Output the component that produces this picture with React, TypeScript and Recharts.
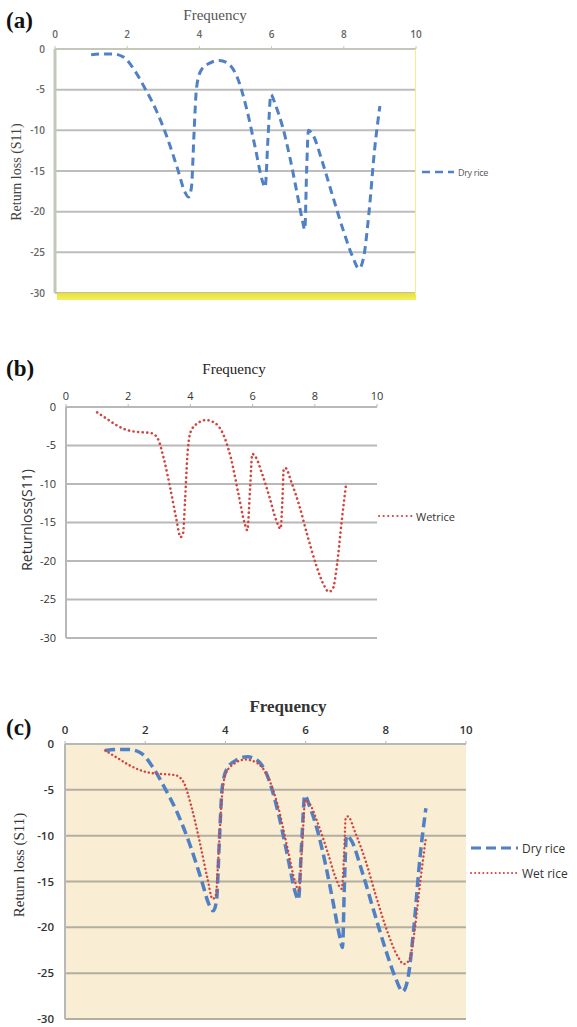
import React from 'react';
import { LineChart, Line, XAxis, YAxis, CartesianGrid } from 'recharts';

// ---- data ----
const xTicks = [0, 2, 4, 6, 8, 10];
const yTicks = [0, -5, -10, -15, -20, -25, -30];

const dryFreq = [1.0, 1.3, 1.6, 1.9, 2.2, 2.5, 2.8, 3.1, 3.4, 3.6, 3.7, 3.78, 3.85, 3.92, 4.05, 4.3, 4.55, 4.8, 5.05, 5.3, 5.55, 5.75, 5.82, 5.9, 5.98, 6.1, 6.3, 6.5, 6.7, 6.85, 6.92, 6.97, 7.02, 7.15, 7.4, 7.7, 8.0, 8.25, 8.42, 8.55, 8.7, 8.85, 9.0];
const dryS11 = [-0.7, -0.6, -0.6, -1.0, -2.6, -4.9, -7.5, -10.8, -14.8, -17.6, -18.2, -17.0, -10.5, -4.8, -2.6, -1.7, -1.4, -1.8, -3.5, -7.2, -12.2, -16.3, -17.0, -11.0, -5.6, -6.8, -9.5, -13.2, -17.6, -21.0, -22.2, -15.0, -10.0, -10.6, -13.8, -18.2, -22.5, -25.6, -27.0, -25.6, -20.0, -12.5, -7.0];

const wetFreq = [1.0, 1.3, 1.6, 1.9, 2.2, 2.5, 2.75, 2.95, 3.15, 3.35, 3.55, 3.68, 3.76, 3.83, 3.9, 4.0, 4.2, 4.5, 4.8, 5.05, 5.3, 5.55, 5.75, 5.83, 5.92, 5.99, 6.1, 6.3, 6.55, 6.75, 6.9, 6.96, 7.0, 7.05, 7.25, 7.5, 7.75, 8.05, 8.3, 8.45, 8.58, 8.72, 8.86, 9.0];
const wetS11 = [-0.7, -1.5, -2.3, -2.9, -3.2, -3.3, -3.4, -4.1, -6.8, -10.5, -14.6, -16.9, -16.5, -12.0, -6.5, -3.3, -2.2, -1.7, -2.1, -3.5, -6.6, -11.4, -15.2, -16.0, -10.5, -6.1, -6.5, -8.6, -11.8, -14.6, -15.8, -12.0, -8.1, -7.9, -9.8, -12.8, -16.5, -20.6, -23.2, -24.0, -23.6, -20.3, -15.0, -10.2];

const dryData = dryFreq.map((f, i) => ({ f, s: dryS11[i] }));
const wetData = wetFreq.map((f, i) => ({ f, s: wetS11[i] }));

const BLUE = '#4f81c4';
const RED = '#d2453f';

type SeriesDef = { name: string; data: { f: number; s: number }[]; color: string; dash: string; width: number; cap?: 'round' | 'butt' };

const drySeriesA: SeriesDef = { name: 'Dry rice', data: dryData, color: BLUE, dash: '8 5', width: 3 };
const wetSeriesB: SeriesDef = { name: 'Wet rice', data: wetData, color: RED, dash: '0.1 4.5', width: 2.6, cap: 'round' };
const drySeriesC: SeriesDef = { name: 'Dry rice', data: dryData, color: BLUE, dash: '10 5', width: 3.5 };
const wetSeriesC: SeriesDef = { name: 'Wet rice', data: wetData, color: RED, dash: '0.1 4', width: 2.4, cap: 'round' };

const YW = 50;
const XH = 25;

function Panel(props: {
  top: number; height: number;
  plotLeft: number; plotRight: number; plotTop: number; plotBottom: number;
  series: SeriesDef[]; bg?: string; tickFont: any; yTickMargin: number; xTickMargin: number;
  axisColor: string; axisWidth: number; gridColor: string;
}) {
  const { top, height, plotLeft, plotRight, plotTop, plotBottom, series, bg, tickFont, yTickMargin, xTickMargin, axisColor, axisWidth, gridColor } = props;
  const margin = { left: plotLeft - YW, right: 577 - plotRight, top: plotTop - XH, bottom: height - plotBottom };
  return (
    <div style={{ position: 'absolute', left: 0, top, width: 577, height }}>
      <LineChart width={577} height={height} margin={margin}>
        <CartesianGrid vertical={false} horizontal={true} stroke={gridColor} strokeWidth={2} fill={bg || 'none'} fillOpacity={1} />
        <XAxis
          dataKey="f" type="number" orientation="top" domain={[0, 10]} ticks={xTicks} height={XH}
          axisLine={{ stroke: axisColor, strokeWidth: 2 }} tickLine={{ stroke: axisColor }} tickSize={3}
          tickMargin={xTickMargin} tick={tickFont} interval={0}
        />
        <YAxis
          type="number" domain={[-30, 0]} ticks={yTicks} width={YW}
          axisLine={{ stroke: axisColor, strokeWidth: axisWidth }} tickLine={false} tickSize={0}
          tickMargin={yTickMargin} tick={tickFont} interval={0}
        />
        {series.map((s) => (
          <Line
            key={s.name}
            data={s.data}
            dataKey="s"
            name={s.name}
            type="monotone"
            stroke={s.color}
            strokeWidth={s.width}
            strokeDasharray={s.dash}
            strokeLinecap={s.cap || 'butt'}
            dot={false}
            activeDot={false}
            isAnimationActive={false}
          />
        ))}
      </LineChart>
    </div>
  );
}

function LegendItem(props: { x: number; y: number; len: number; s: SeriesDef; font: any; label: string }) {
  const { x, y, len, s, font, label } = props;
  return (
    <div style={{ position: 'absolute', left: x, top: y - 10, height: 20, display: 'flex', alignItems: 'center' }}>
      <svg width={len + 4} height={20} style={{ display: 'block' }}>
        <line x1={1} y1={10} x2={len + 1} y2={10} stroke={s.color} strokeWidth={s.width * 0.8} strokeDasharray={s.dash} strokeLinecap={s.cap || 'butt'} />
      </svg>
      <span style={{ ...font, whiteSpace: 'nowrap', marginLeft: 1 }}>{label}</span>
    </div>
  );
}

const abs = (left: number, top: number, extra: any = {}) => ({ position: 'absolute' as const, left, top, whiteSpace: 'nowrap' as const, ...extra });

function VTitle(props: { cx: number; cy: number; text: string; font: any }) {
  const { cx, cy, text, font } = props;
  return (
    <div style={{ position: 'absolute', left: cx, top: cy, width: 0, height: 0 }}>
      <div style={{ position: 'absolute', left: 0, top: 0, transform: 'translate(-50%, -50%) rotate(-90deg)', whiteSpace: 'nowrap', ...font }}>{text}</div>
    </div>
  );
}

function HTitle(props: { cx: number; cy: number; text: string; font: any }) {
  const { cx, cy, text, font } = props;
  return (
    <div style={{ position: 'absolute', left: cx, top: cy, width: 0, height: 0 }}>
      <div style={{ position: 'absolute', left: 0, top: 0, transform: 'translate(-50%, -50%)', whiteSpace: 'nowrap', ...font }}>{text}</div>
    </div>
  );
}

export default function App() {
  const serif = '"Liberation Serif", "DejaVu Serif", serif';
  const sans = '"Open Sans", "Noto Sans", "Liberation Sans", sans-serif';
  const panelLabel = { fontFamily: serif, fontWeight: 700, fontSize: 23, color: '#111', lineHeight: 1 };

  const tickA = { fontFamily: sans, fontSize: 10, fontWeight: 600, fill: '#666' };
  const tickB = { fontFamily: sans, fontSize: 11, fill: '#333' };
  const tickC = { fontFamily: sans, fontSize: 11.5, fontWeight: 600, fill: '#333' };

  return (
    <div style={{ position: 'absolute', left: 0, top: 0, width: 577, height: 1027, background: '#fff', overflow: 'hidden' }}>
      {/* Panel (a) */}
      <div style={abs(6, 9, panelLabel)}>(a)</div>
      <HTitle cx={215} cy={15} text="Frequency" font={{ fontFamily: serif, fontSize: 15, color: '#555' }} />
      <VTitle cx={17} cy={172} text="Return loss (S11)" font={{ fontFamily: serif, fontSize: 14, color: '#444' }} />
      <Panel top={0} height={310} plotLeft={55} plotRight={416} plotTop={49} plotBottom={293}
        series={[drySeriesA]} tickFont={tickA} yTickMargin={10} xTickMargin={8}
        axisColor="#c3c8b8" axisWidth={3} gridColor="#bdbdbd" />
      <div style={{ position: 'absolute', left: 57, top: 293, width: 359, height: 7, background: 'linear-gradient(#e9e22a, #f3ee6a)' }} />
      <div style={{ position: 'absolute', left: 415, top: 49, width: 1, height: 246, background: '#f3ee86' }} />
      <LegendItem x={421} y={172} len={32} s={drySeriesA} label="Dry rice" font={{ fontFamily: sans, fontSize: 9, color: '#555', letterSpacing: -0.3 }} />

      {/* Panel (b) */}
      <div style={abs(6, 357, panelLabel)}>(b)</div>
      <HTitle cx={234} cy={369} text="Frequency" font={{ fontFamily: serif, fontSize: 15, color: '#222' }} />
      <VTitle cx={26} cy={520} text="Returnloss(S11)" font={{ fontFamily: sans, fontSize: 14, color: '#333' }} />
      <Panel top={350} height={300} plotLeft={66} plotRight={377} plotTop={57} plotBottom={288}
        series={[wetSeriesB]} tickFont={tickB} yTickMargin={10} xTickMargin={4}
        axisColor="#b8b8b8" axisWidth={2} gridColor="#b8b8b8" />
      <LegendItem x={378} y={516} len={33} s={wetSeriesB} label="Wetrice" font={{ fontFamily: sans, fontSize: 11, color: '#333' }} />

      {/* Panel (c) */}
      <div style={abs(6, 716, panelLabel)}>(c)</div>
      <HTitle cx={288} cy={707} text="Frequency" font={{ fontFamily: serif, fontSize: 17, fontWeight: 700, color: '#333' }} />
      <VTitle cx={19} cy={865} text="Return loss (S11)" font={{ fontFamily: serif, fontSize: 15, color: '#333' }} />
      <Panel top={680} height={347} plotLeft={65} plotRight={466} plotTop={64} plotBottom={339}
        series={[drySeriesC, wetSeriesC]} bg="#f9edd3" tickFont={tickC} yTickMargin={11} xTickMargin={7}
        axisColor="#b8b8b8" axisWidth={2} gridColor="#b3aea0" />
      <LegendItem x={470} y={848} len={47} s={drySeriesC} label="Dry rice" font={{ fontFamily: sans, fontSize: 12, color: '#333' }} />
      <LegendItem x={470} y={873} len={47} s={wetSeriesC} label="Wet rice" font={{ fontFamily: sans, fontSize: 12, color: '#333' }} />
    </div>
  );
}
